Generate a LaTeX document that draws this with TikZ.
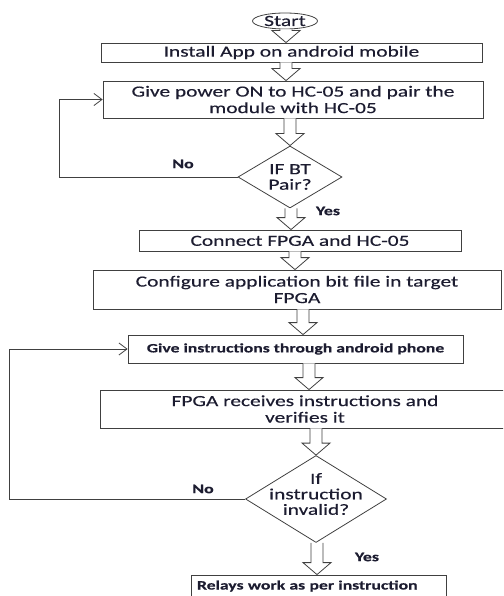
\documentclass[tikz,border=0pt]{standalone}
\usepackage{fontspec}
\setmainfont{Carlito}[FakeStretch=1.38, FakeBold=0.4]
\usetikzlibrary{arrows.meta,shapes.geometric,calc}
\definecolor{inkcol}{RGB}{28,28,48}
\definecolor{edgecol}{RGB}{64,64,64}
% hollow block arrow between two nodes, at a given x
\newcommand{\hollowarr}[3]{%
  \draw[hollow] let \p1=(#1.south), \p2=(#2.north), \p3=(#3,0) in
    (\x3-6pt,\y1) -- (\x3-6pt,\y2+12pt) -- (\x3-14pt,\y2+12pt) -- (\x3,\y2)
    -- (\x3+14pt,\y2+12pt) -- (\x3+6pt,\y2+12pt) -- (\x3+6pt,\y1);}

\begin{document}
\begin{tikzpicture}[x=1pt, y=-1pt,
    box/.style={draw=edgecol, line width=0.8pt, rectangle, inner sep=0pt, align=center,
                text=inkcol, font=\fontsize{15.5}{16.5}\selectfont},
    smallbox/.style={box, font=\fontsize{12.8}{14}\selectfont\bfseries},
    decision/.style={draw=edgecol, line width=0.8pt, diamond, inner sep=0pt},
    terminal/.style={draw=edgecol, line width=0.8pt, ellipse, inner sep=0pt},
    dtext/.style={align=center, text=inkcol, font=\fontsize{15.5}{15.5}\selectfont},
    tag/.style={text=inkcol, font=\fontsize{13}{14}\selectfont\bfseries},
    hollow/.style={draw=edgecol, line width=0.8pt, fill=white},
    back/.style={draw=edgecol, line width=0.8pt, -{Straight Barb[length=8pt,width=12pt]}},
]
\clip (0,0) rectangle (503,596);

% --- Pairing part ---
\node[terminal, minimum width=65pt, minimum height=16pt,
      label={[dtext]center:Start}] (start) at (285,21) {};
\node[box, minimum width=381pt, minimum height=19pt] (install) at (291.5,52.5)
    {Install App on android mobile};
\node[box, minimum width=380pt, minimum height=37pt] (power) at (293,99.5)
    {Give power ON to HC-05 and pair the\\module with HC-05};
\node[decision, minimum width=104pt, minimum height=62pt,
      label={[dtext]center:IF BT\\Pair?}] (pair) at (290,177) {};
\node[box, minimum width=322pt, minimum height=21pt] (connect) at (300,240.5)
    {Connect FPGA and HC-05};
\node[box, minimum width=408pt, minimum height=39pt] (config) at (297,289.5)
    {Configure application bit file in target\\FPGA};

% --- Instruction part ---
\node[smallbox, minimum width=335pt, minimum height=28pt] (instr) at (295.5,349)
    {Give instructions through android phone};
\node[box, minimum width=410pt, minimum height=38pt] (receive) at (305,409)
    {FPGA receives instructions and\\verifies it};
\node[decision, minimum width=141pt, minimum height=87pt,
      label={[dtext, yshift=5pt]center:If\\instruction\\invalid?}] (check) at (316,499) {};
\node[smallbox, minimum width=255pt, minimum height=22pt, align=left, text width=243pt]
    (relay) at (318.5,586) {Relays work as per instruction};

% --- Labels ---
\node[tag] (no1) at (183,164) {No};
\node[tag] (yes1) at (328,211) {Yes};
\node[tag] (no2) at (203,489) {No};
\node[tag] (yes2) at (367,557) {Yes};

% --- Block arrows ---
\hollowarr{start}{install}{286}
\hollowarr{install}{power}{286}
\hollowarr{power}{pair}{290}
\hollowarr{pair}{connect}{291}
\hollowarr{connect}{config}{295}
\hollowarr{config}{instr}{303}
\hollowarr{instr}{receive}{309}
\hollowarr{receive}{check}{316}
\hollowarr{check}{relay}{317}

% --- Loops back ---
\coordinate (lane1) at (59,0);
\coordinate (lane2) at (9,0);
\draw[back] (pair.west) -- (pair.west -| lane1) |- (power.west);
\draw[back] (check.west) -- (check.west -| lane2) |- (instr.west);
\end{tikzpicture}
\end{document}
